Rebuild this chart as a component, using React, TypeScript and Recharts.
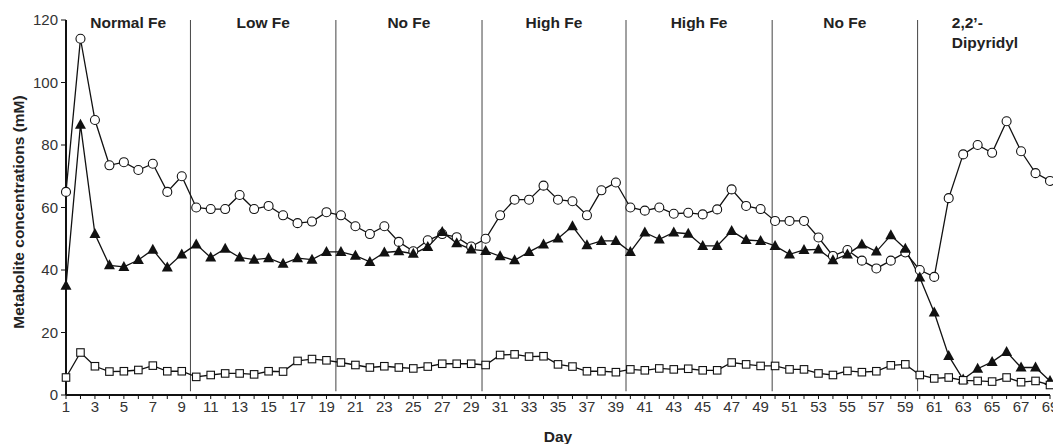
import { LineChart, Line, XAxis, YAxis, ReferenceLine, ReferenceArea, Label } from 'recharts';

const FONT = '"Liberation Sans", Arial, sans-serif';

// day numbers 1..69
const days = Array.from({ length: 69 }, (_, i) => i + 1);

const circles = [
  65, 114, 88, 73.5, 74.5, 72, 74, 65, 70, 60,
  59.5, 59.5, 64, 59.5, 60.5, 57.5, 55, 55.5, 58.5, 57.5,
  54, 51.5, 54, 49, 46, 49.5, 51.5, 50.5, 47.5, 50,
  57.5, 62.5, 62.5, 67, 62.5, 62, 57.5, 65.5, 68, 60,
  59, 60, 58, 58.3, 57.8, 59.4, 65.8, 60.5, 59.5, 55.7,
  55.7, 55.7, 50.4, 44.5, 46.4, 43, 40.5, 43, 45.6, 40,
  37.8, 63, 77, 80, 77.5, 87.6, 78, 71, 68.5,
];

const triangles = [
  35, 86.5, 51.5, 41.5, 41, 43.2, 46.5, 40.8, 45, 48.2,
  44, 46.8, 44, 43.3, 43.8, 42, 43.8, 43.3, 45.8, 45.8,
  44.6, 42.6, 45.6, 46, 45.2, 47.4, 52.2, 48.6, 46.6, 46.1,
  44.4, 43.1, 45.8, 48.2, 50.1, 54, 47.9, 49.3, 49.3, 45.8,
  52, 49.8, 52, 51.6, 47.7, 47.7, 52.5, 49.6, 49.3, 47.7,
  45, 46.4, 46.6, 43.1, 45, 48.2, 45.9, 51.1, 46.8, 37.6,
  26.4, 12.5, 5, 8.4, 10.6, 13.8, 8.8, 8.8, 4.5,
];

const squares = [
  5.6, 13.6, 9.2, 7.5, 7.6, 8, 9.4, 7.6, 7.6, 5.8,
  6.4, 6.9, 6.9, 6.6, 7.6, 7.5, 10.9, 11.5, 11.1, 10.4,
  9.6, 8.8, 9.2, 8.8, 8.5, 9.1, 10, 10, 10, 9.6,
  12.8, 13, 12.3, 12.4, 9.8, 9.1, 7.6, 7.6, 7.3, 8.2,
  7.9, 8.5, 8.2, 8.4, 7.9, 7.9, 10.4, 9.8, 9.3, 9.3,
  8.2, 8.2, 6.9, 6.4, 7.7, 7.3, 7.6, 9.5, 9.8, 6.4,
  5.3, 5.6, 4.7, 4.5, 4.3, 5.6, 4.1, 4.5, 3.2,
];

// treatment phases and where the phase dividers sit (in days)
const phaseNames = ['Normal Fe', 'Low Fe', 'No Fe', 'High Fe', 'High Fe', 'No Fe', 'Dipyridyl'];
const dividers = [9.6, 19.65, 29.75, 39.7, 49.8, 59.85];

const yTicks = [0, 20, 40, 60, 80, 100, 120];

const CircleDot = (p: any) => (
  <circle key={`c${p.index}`} cx={p.cx} cy={p.cy} r={4.5} fill="#fff" stroke="#111" strokeWidth={1.1} />
);
const TriangleDot = (p: any) => (
  <path
    key={`t${p.index}`}
    d={`M${p.cx},${p.cy - 6} L${p.cx + 5.5},${p.cy + 4} L${p.cx - 5.5},${p.cy + 4} Z`}
    fill="#111"
  />
);
const SquareDot = (p: any) => (
  <rect key={`s${p.index}`} x={p.cx - 3.75} y={p.cy - 3.75} width={7.5} height={7.5} fill="#fff" stroke="#111" strokeWidth={1.1} />
);

const phaseLabel = (name: string) => (props: any) => {
  const vb = props.viewBox;
  const cx = vb.x + vb.width / 2;
  if (name === 'Dipyridyl') {
    const left = cx - 32;
    return (
      <g fontFamily={FONT} fontSize={15.5} fontWeight="bold" fill="#222">
        <text x={left} y={28}>2,2’-</text>
        <text x={left} y={48}>Dipyridyl</text>
      </g>
    );
  }
  return (
    <text x={cx} y={28} textAnchor="middle" fontFamily={FONT} fontSize={15.5} fontWeight="bold" fill="#222">
      {name}
    </text>
  );
};

export default function App() {
  const data = days.map((d, i) => ({ day: d, circles: circles[i], triangles: triangles[i], squares: squares[i] }));
  const bounds = [1, ...dividers, 69];

  return (
    <div style={{ position: 'absolute', left: 0, top: 0, background: '#fff' }}>
      <LineChart width={1053} height={444} data={data} margin={{ top: 20, right: 3, bottom: 0, left: 0 }}>
        <XAxis
          dataKey="day"
          type="number"
          domain={[1, 69]}
          ticks={days}
          interval={0}
          tickFormatter={(v) => (v % 2 === 1 ? String(v) : '')}
          height={49}
          axisLine={{ stroke: '#111', strokeWidth: 2 }}
          tickLine={{ stroke: '#111' }}
          tickSize={4}
          tick={{ fontSize: 15, fill: '#333', fontFamily: FONT }}
        >
          <Label
            content={() => (
              <text x={558} y={442} textAnchor="middle" fontFamily={FONT} fontSize={15.5} fontWeight="bold" fill="#222">
                Day
              </text>
            )}
          />
        </XAxis>
        <YAxis
          type="number"
          domain={[0, 120]}
          ticks={yTicks}
          width={66}
          axisLine={{ stroke: '#111', strokeWidth: 2 }}
          tickLine={{ stroke: '#111' }}
          tickSize={5}
          tickMargin={3}
          tick={{ fontSize: 15, fill: '#333', fontFamily: FONT }}
        >
          <Label
            content={() => (
              <text
                x={18}
                y={212}
                transform="rotate(-90, 18, 212)"
                textAnchor="middle"
                dominantBaseline="central"
                fontFamily={FONT}
                fontSize={15.5}
                fontWeight="bold"
                fill="#222"
              >
                Metabolite concentrations (mM)
              </text>
            )}
          />
        </YAxis>

        {phaseNames.map((name, i) => (
          <ReferenceArea
            key={`a${i}`}
            x1={bounds[i]}
            x2={bounds[i + 1]}
            y1={110}
            y2={120}
            fill="none"
            stroke="none"
            label={phaseLabel(name)}
          />
        ))}
        {dividers.map((b) => (
          <ReferenceLine
            key={`d${b}`}
            segment={[{ x: b, y: 1.2 }, { x: b, y: 120 }]}
            stroke="#444"
            strokeWidth={1}
          />
        ))}

        <Line type="linear" dataKey="circles" stroke="#111" strokeWidth={1.3} dot={CircleDot} isAnimationActive={false} />
        <Line type="linear" dataKey="triangles" stroke="#111" strokeWidth={1.3} dot={TriangleDot} isAnimationActive={false} />
        <Line type="linear" dataKey="squares" stroke="#111" strokeWidth={1.3} dot={SquareDot} isAnimationActive={false} />
      </LineChart>
    </div>
  );
}
